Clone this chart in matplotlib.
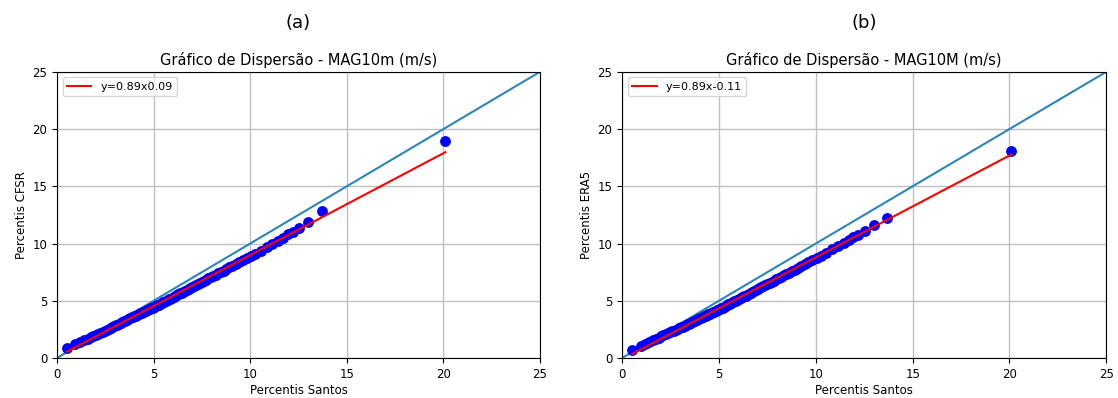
import numpy as np
import matplotlib
matplotlib.use('Agg')
import matplotlib.pyplot as plt

# Percentis observados (Santos), comuns aos dois paineis
santos = [0.52, 0.95, 1.20, 1.40, 1.58, 1.74, 1.88, 2.01, 2.13, 2.25,
          2.36, 2.47, 2.57, 2.67, 2.77, 2.86, 2.95, 3.04, 3.13, 3.22,
          3.30, 3.38, 3.46, 3.54, 3.62, 3.70, 3.78, 3.86, 3.93, 4.01,
          4.08, 4.16, 4.23, 4.31, 4.38, 4.45, 4.53, 4.60, 4.67, 4.75,
          4.82, 4.89, 4.97, 5.04, 5.11, 5.19, 5.26, 5.34, 5.41, 5.49,
          5.56, 5.64, 5.72, 5.80, 5.87, 5.95, 6.03, 6.12, 6.20, 6.28,
          6.37, 6.45, 6.54, 6.63, 6.72, 6.81, 6.90, 7.00, 7.09, 7.19,
          7.29, 7.40, 7.50, 7.61, 7.72, 7.84, 7.96, 8.08, 8.21, 8.34,
          8.48, 8.62, 8.77, 8.92, 9.08, 9.25, 9.43, 9.62, 9.82, 10.04,
          10.27, 10.55, 10.85, 11.15, 11.45, 11.70, 11.94, 12.19, 12.55, 13.00,
          13.70, 20.10]

# Percentis CFSR
cfsr = [0.88, 1.19, 1.39, 1.55, 1.69, 1.82, 1.92, 2.03, 2.13, 2.21,
        2.30, 2.39, 2.47, 2.55, 2.63, 2.70, 2.77, 2.85, 2.92, 3.00,
        3.06, 3.13, 3.20, 3.26, 3.33, 3.39, 3.46, 3.54, 3.59, 3.66,
        3.71, 3.77, 3.84, 3.90, 3.95, 4.00, 4.07, 4.12, 4.18, 4.24,
        4.30, 4.35, 4.41, 4.47, 4.52, 4.59, 4.65, 4.72, 4.79, 4.86,
        4.92, 4.99, 5.06, 5.13, 5.19, 5.27, 5.34, 5.42, 5.49, 5.56,
        5.64, 5.71, 5.79, 5.87, 5.95, 6.03, 6.11, 6.20, 6.28, 6.37,
        6.46, 6.56, 6.65, 6.74, 6.84, 6.95, 7.05, 7.16, 7.28, 7.39,
        7.52, 7.64, 7.78, 7.91, 8.05, 8.20, 8.36, 8.53, 8.71, 8.91,
        9.11, 9.38, 9.68, 9.97, 10.26, 10.52, 10.80, 11.00, 11.37, 11.90,
        12.83, 19.00]

# Percentis ERA5
era5 = [0.68, 1.04, 1.25, 1.42, 1.56, 1.69, 1.79, 1.88, 1.98, 2.06,
        2.15, 2.24, 2.32, 2.39, 2.47, 2.54, 2.61, 2.68, 2.75, 2.82,
        2.89, 2.95, 3.01, 3.08, 3.14, 3.20, 3.27, 3.34, 3.40, 3.46,
        3.51, 3.58, 3.64, 3.71, 3.76, 3.81, 3.88, 3.93, 4.00, 4.06,
        4.12, 4.17, 4.23, 4.30, 4.35, 4.41, 4.47, 4.54, 4.61, 4.68,
        4.74, 4.81, 4.88, 4.95, 5.01, 5.09, 5.16, 5.24, 5.31, 5.38,
        5.46, 5.53, 5.61, 5.69, 5.77, 5.85, 5.93, 6.02, 6.10, 6.19,
        6.28, 6.38, 6.47, 6.56, 6.66, 6.77, 6.87, 6.98, 7.10, 7.21,
        7.34, 7.46, 7.60, 7.73, 7.87, 8.02, 8.18, 8.35, 8.53, 8.73,
        8.93, 9.20, 9.49, 9.77, 10.06, 10.30, 10.54, 10.77, 11.11, 11.58,
        12.24, 18.08]

# Coeficientes da regressao linear (a, b) e textos das legendas
coef_cfsr = (0.89, 0.09)
coef_era5 = (0.89, -0.11)
leg_cfsr = 'y=0.89x0.09'
leg_era5 = 'y=0.89x-0.11'

fig = plt.figure(figsize=(11.18, 3.98), dpi=100)
ax1 = fig.add_axes([0.051, 0.1005, 0.432, 0.719])
ax2 = fig.add_axes([0.5565, 0.1005, 0.433, 0.719])

paineis = [
    (ax1, cfsr, coef_cfsr, leg_cfsr, 'Gráfico de Dispersão - MAG10m (m/s)', 'Percentis CFSR', '(a)'),
    (ax2, era5, coef_era5, leg_era5, 'Gráfico de Dispersão - MAG10M (m/s)', 'Percentis ERA5', '(b)'),
]

x = np.array(santos)
for ax, y, (a, b), leg, titulo, ylab, letra in paineis:
    # reta 1:1 por baixo dos pontos
    ax.plot([0, 25], [0, 25], color='#2a86b8', lw=1.5, zorder=1.5)
    ax.scatter(x, y, s=46, color='blue', zorder=2)
    xr = np.array([x.min(), x.max()])
    ax.plot(xr, a * xr + b, color='red', lw=1.5, label=leg, zorder=3)
    ax.set_xlim(0, 25)
    ax.set_ylim(0, 25)
    ax.set_xticks(range(0, 26, 5))
    ax.set_yticks(range(0, 26, 5))
    ax.grid(True, color='#c0c0c0', lw=1.0)
    ax.set_axisbelow(True)
    ax.tick_params(labelsize=8.5)
    ax.set_xlabel('Percentis Santos', fontsize=8.5, labelpad=2)
    ax.set_ylabel(ylab, fontsize=8.5, labelpad=3)
    ax.set_title(titulo, fontsize=10.5, pad=5)
    ax.text(0.5, 1.17, letra, transform=ax.transAxes, ha='center',
            va='center', fontsize=13)
    ax.legend(loc='upper left', fontsize=8, handlelength=2.2)

fig.savefig('out.png', dpi=100)
